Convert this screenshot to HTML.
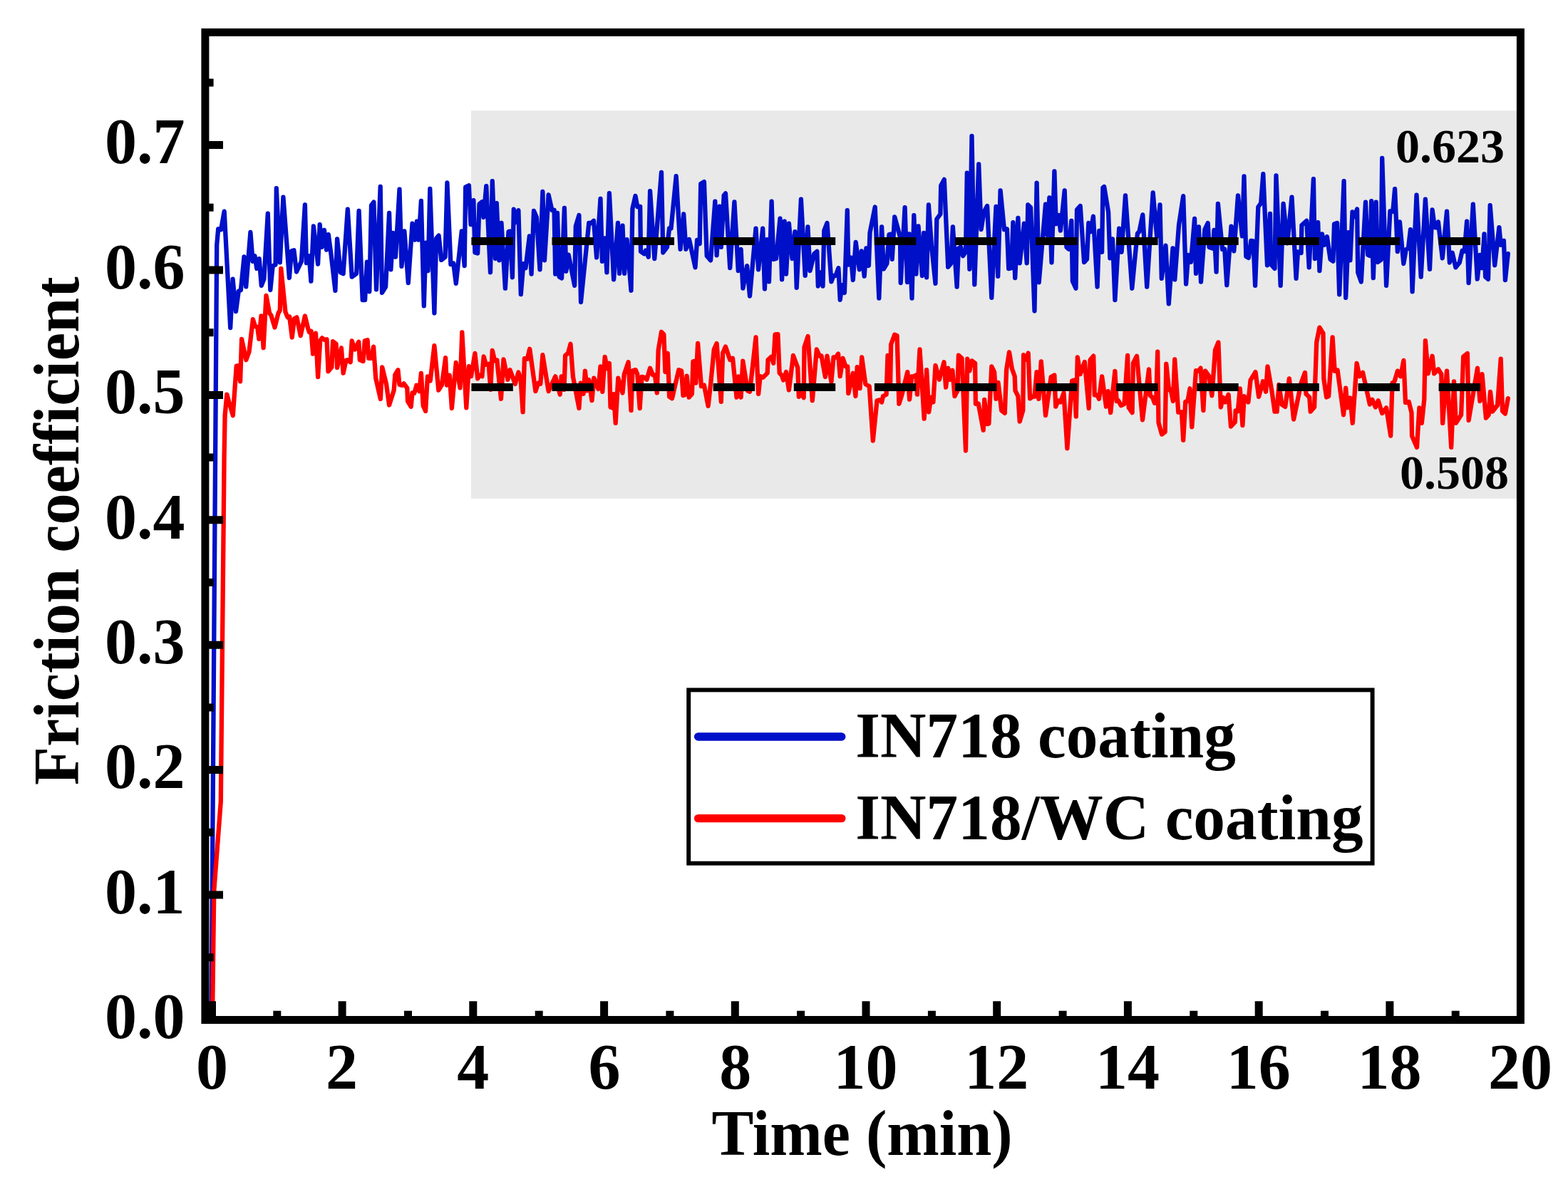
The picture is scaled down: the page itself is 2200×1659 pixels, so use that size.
<!DOCTYPE html>
<html lang="en"><head><meta charset="utf-8"><title>Friction coefficient vs time</title>
<style>html,body{margin:0;padding:0;background:#fff;}body{width:2200px;height:1659px;overflow:hidden;}svg{display:block;}</style></head>
<body>
<svg width="2200" height="1659" viewBox="0 0 2200 1659">
<rect x="0" y="0" width="2200" height="1659" fill="#fff"/>
<rect x="661" y="155.3" width="1468" height="544.5" fill="#e9e9e9"/>
<polyline points="296.5,1431.4 304.2,343.7 306.2,321.3 310.1,322.4 314.7,296.6 323.2,460.0 326.6,391.7 331.0,437.2 334.8,408.6 337.9,407.1 342.5,360.5 345.2,402.4 351.4,326.0 354.6,366.8 357.5,359.2 360.3,376.9 363.7,363.1 366.8,400.8 370.4,391.6 375.8,299.7 379.3,407.0 382.7,373.1 386.6,371.5 387.8,264.2 392.8,368.4 397.4,276.6 405.9,390.0 409.0,352.2 412.4,351.3 416.0,381.5 422.9,366.9 427.9,287.4 429.9,369.2 433.7,359.2 436.4,394.7 439.9,317.5 446.1,370.7 448.7,315.2 451.5,346.8 454.9,322.9 458.1,350.6 460.8,329.1 464.6,357.6 470.4,407.8 473.1,335.3 477.8,382.4 481.6,384.2 487.8,293.6 493.7,388.6 500.2,383.9 503.6,295.9 508.7,421.0 512.1,421.0 514.9,367.7 518.3,409.3 521.0,288.1 524.4,283.6 528.0,406.3 533.7,261.9 536.0,410.9 541.1,402.5 546.1,299.0 548.4,378.4 551.5,326.8 555.0,360.7 560.5,265.7 563.5,373.8 567.4,324.5 572.8,397.0 578.5,313.6 582.1,336.7 584.9,310.6 587.5,336.7 590.9,282.0 594.8,429.4 597.5,340.7 600.6,380.0 603.3,265.0 609.4,439.5 612.2,334.5 615.6,330.7 619.2,364.9 624.6,360.7 627.4,256.5 632.4,371.0 636.2,369.5 639.8,397.8 647.8,324.5 651.7,373.0 653.2,262.6 657.9,260.2 660.5,315.1 664.4,281.2 666.4,354.5 670.2,355.5 672.5,286.5 676.4,283.3 678.4,305.0 682.3,261.1 688.0,382.3 690.8,254.1 695.0,363.0 696.8,285.1 700.4,365.3 703.5,312.9 708.9,404.7 713.5,325.2 715.8,324.7 718.9,389.3 720.8,293.6 724.3,312.0 727.4,295.1 730.8,413.2 734.4,370.1 737.5,376.1 742.9,331.4 745.6,384.6 749.0,295.9 752.9,305.1 757.5,378.4 761.4,268.8 764.0,365.3 769.6,273.5 774.5,295.2 777.6,294.9 779.2,384.6 782.0,299.0 784.6,388.5 788.1,390.4 791.9,292.0 794.3,380.8 797.7,357.7 806.2,400.8 807.8,317.5 812.4,302.1 815.0,424.0 826.3,312.8 828.6,313.6 833.0,309.8 837.1,361.4 842.5,278.9 844.9,366.8 848.7,334.5 851.4,382.3 854.9,271.1 861.1,392.3 867.0,312.9 869.1,383.8 873.5,316.7 876.1,383.8 879.6,336.1 885.5,407.8 887.4,292.7 891.5,275.0 894.3,290.3 898.2,289.8 899.0,353.0 903.6,356.3 905.9,351.5 909.8,360.7 912.1,268.1 918.3,363.0 928.0,241.8 930.3,354.5 936.0,346.8 939.1,320.4 941.5,320.7 948.7,247.2 954.6,349.8 959.2,300.5 962.4,349.8 967.0,336.1 975.5,375.3 978.1,336.8 981.7,342.1 983.2,258.0 987.9,255.1 991.7,359.2 997.1,365.3 1003.3,282.7 1005.6,358.3 1009.5,289.7 1011.8,346.8 1015.7,274.2 1018.0,271.4 1024.2,376.1 1030.4,283.5 1035.8,380.0 1039.6,350.0 1042.4,404.7 1048.1,373.1 1052.0,415.5 1060.5,320.6 1064.1,378.4 1070.2,320.6 1072.9,405.5 1076.0,336.1 1079.0,395.4 1082.6,282.7 1085.2,364.0 1089.1,363.0 1094.5,306.7 1097.1,392.3 1100.7,310.6 1103.0,384.6 1106.9,313.6 1111.5,363.0 1115.4,325.2 1117.7,403.9 1123.9,279.6 1129.7,386.9 1133.4,318.3 1136.5,380.0 1142.4,356.1 1146.3,352.8 1147.8,401.6 1150.9,382.4 1154.5,401.6 1156.3,323.6 1160.5,312.9 1166.4,395.4 1169.5,387.0 1172.5,387.0 1176.4,376.2 1178.7,420.9 1181.4,400.2 1184.9,410.9 1188.8,295.1 1190.3,371.5 1194.2,361.6 1196.8,393.1 1200.7,339.9 1205.8,378.4 1208.9,352.3 1212.7,387.7 1215.4,348.4 1218.9,373.0 1220.5,326.7 1227.7,290.5 1233.3,418.6 1237.1,318.3 1239.8,377.7 1244.4,370.0 1247.5,329.0 1249.8,328.6 1251.7,363.8 1255.2,304.4 1263.0,332.9 1263.7,397.0 1269.6,291.2 1273.0,396.2 1275.8,328.3 1279.5,418.6 1282.3,302.1 1285.4,384.6 1288.5,317.5 1293.9,387.0 1296.2,326.9 1300.1,389.3 1302.9,287.5 1307.0,345.4 1312.5,397.8 1314.3,307.5 1319.4,300.5 1320.2,260.4 1324.8,251.9 1330.2,374.8 1334.1,370.1 1336.9,318.4 1342.6,402.5 1344.9,348.5 1348.0,346.6 1351.1,359.2 1355.0,353.1 1356.8,242.6 1360.4,377.8 1363.5,190.9 1367.3,399.4 1373.2,230.3 1376.6,322.1 1380.5,297.5 1385.1,289.0 1391.3,417.9 1397.5,289.8 1400.2,387.8 1403.6,267.4 1409.0,322.2 1412.9,321.4 1415.2,377.2 1419.1,376.3 1421.4,312.2 1424.2,390.1 1428.4,306.0 1430.7,369.3 1436.9,313.7 1440.7,369.3 1442.3,287.5 1446.1,291.3 1451.5,436.5 1454.6,256.6 1457.7,396.3 1467.0,286.7 1469.3,329.8 1472.4,277.4 1475.5,368.5 1479.4,240.3 1481.7,314.4 1485.5,302.1 1487.9,323.7 1493.7,267.4 1496.4,346.9 1499.5,349.7 1503.3,309.9 1504.9,394.8 1509.5,404.8 1511.0,294.4 1515.7,289.0 1521.1,368.1 1525.0,363.9 1527.3,313.0 1530.4,325.2 1533.9,303.7 1539.6,402.5 1542.3,323.8 1546.1,353.8 1547.4,263.5 1549.2,262.0 1555.1,297.5 1557.4,362.3 1561.0,335.4 1564.4,421.0 1570.2,320.7 1573.6,353.8 1579.0,274.3 1588.3,404.8 1593.7,348.5 1596.0,327.6 1598.4,325.3 1603.3,301.4 1609.2,402.5 1617.7,270.5 1623.1,331.4 1627.5,287.5 1629.8,390.9 1635.5,344.6 1639.8,426.4 1645.5,348.5 1648.3,392.4 1654.0,316.0 1660.2,275.1 1664.1,398.6 1667.2,357.8 1671.0,367.7 1676.1,306.8 1678.0,383.9 1681.9,318.4 1685.0,395.5 1690.4,322.2 1694.7,313.0 1696.5,346.9 1702.0,348.8 1703.5,323.0 1706.6,381.6 1708.9,285.9 1715.1,349.9 1718.2,349.4 1721.3,400.2 1727.5,317.6 1731.3,352.3 1737.0,274.3 1742.9,331.4 1745.5,247.3 1748.3,360.0 1751.9,361.9 1755.3,337.9 1758.4,338.4 1761.1,400.9 1765.3,290.5 1769.2,285.1 1772.3,244.2 1778.0,372.3 1782.0,299.8 1783.1,370.9 1788.5,377.0 1790.5,246.5 1796.7,400.9 1800.6,285.9 1806.3,341.4 1812.5,276.6 1818.6,390.9 1821.0,353.5 1825.6,355.0 1826.4,316.0 1833.3,309.9 1836.7,375.4 1842.9,251.1 1844.9,363.1 1849.2,312.2 1851.4,380.1 1855.0,328.4 1858.0,343.8 1861.9,332.3 1866.5,363.9 1870.4,366.7 1872.0,314.5 1876.1,313.0 1879.2,413.3 1885.6,254.2 1888.2,417.9 1892.0,326.1 1894.4,365.4 1897.5,297.5 1900.5,304.3 1904.1,293.6 1905.2,382.5 1909.8,395.5 1916.0,283.6 1919.1,357.7 1922.2,359.1 1924.2,282.1 1926.8,390.1 1930.7,283.6 1933.0,368.0 1937.6,364.7 1939.2,221.8 1945.1,400.9 1950.4,296.4 1954.3,297.0 1957.1,265.1 1960.8,353.0 1963.9,311.4 1969.3,370.0 1972.8,350.0 1975.9,348.5 1979.0,322.2 1981.6,409.4 1987.5,273.6 1993.7,388.6 1999.9,279.7 2006.0,377.8 2009.6,294.4 2013.0,319.1 2016.1,319.6 2017.9,311.4 2023.8,362.3 2030.0,296.7 2033.9,368.5 2037.7,354.7 2042.4,375.4 2047.8,368.5 2051.6,351.8 2054.7,352.8 2058.1,310.6 2060.6,397.1 2066.8,286.7 2072.8,391.7 2076.4,357.8 2079.5,376.2 2082.5,328.4 2084.1,388.6 2088.0,391.9 2090.7,288.2 2097.2,372.3 2103.4,319.1 2105.7,343.8 2109.9,337.7 2111.9,393.2 2115.8,356.2" fill="none" stroke="#0010c8" stroke-width="6.3" stroke-linejoin="round" stroke-linecap="round"/>
<polyline points="298.0,1431.4 300.3,1250.0 309.8,1125.0 314.6,640.0 315.6,583.0 318.3,553.7 326.8,583.2 331.7,513.7 334.0,513.3 337.1,535.3 339.1,475.9 345.3,505.2 349.5,493.6 354.9,448.1 358.0,458.1 361.1,458.9 363.4,475.8 366.5,443.5 369.6,488.2 373.5,414.9 378.1,439.5 380.4,442.6 385.5,459.6 390.5,439.5 392.8,435.7 394.3,377.0 400.5,438.0 403.6,445.4 406.2,444.5 409.8,473.5 412.9,447.3 416.4,445.4 421.7,471.2 427.9,443.5 432.2,461.2 434.0,466.2 436.5,464.7 439.1,496.7 443.0,467.7 446.1,529.1 449.2,478.2 452.0,474.4 455.4,477.0 458.5,476.3 460.5,521.4 465.4,515.3 467.0,479.1 471.6,482.8 473.1,516.0 478.9,488.3 481.6,523.7 485.5,506.0 487.8,505.1 491.7,508.2 493.7,478.5 497.9,490.5 503.3,479.8 504.8,505.2 509.5,507.1 511.8,478.2 515.6,477.2 517.2,502.9 521.0,502.9 524.1,486.7 527.2,530.7 533.9,560.0 536.2,515.3 541.9,538.5 546.1,568.5 552.7,547.7 554.3,526.1 558.4,519.2 560.5,540.0 564.3,540.9 566.6,538.3 571.3,544.6 572.0,563.2 576.7,570.8 578.5,551.4 581.3,551.8 584.4,540.8 588.3,549.2 590.9,523.8 593.7,569.4 597.1,577.0 599.9,528.5 603.7,534.5 609.4,485.2 615.3,547.7 620.0,540.0 625.1,502.2 626.9,540.7 630.8,526.8 633.9,573.0 639.8,509.0 645.5,544.4 648.3,466.5 654.3,572.3 657.9,514.1 661.0,528.2 666.4,495.9 670.2,531.3 673.3,526.7 676.4,528.3 678.7,500.5 681.8,511.8 685.7,510.8 688.3,546.8 690.8,492.0 694.2,506.4 697.3,505.4 703.0,559.9 706.5,504.4 712.4,532.8 715.5,519.1 722.8,539.0 727.4,522.5 730.5,531.4 733.6,578.4 735.9,503.2 739.8,503.9 743.2,489.7 751.4,549.1 755.2,537.8 758.3,538.8 761.4,498.2 769.6,549.1 779.2,528.3 785.7,553.7 787.7,528.3 790.0,528.3 791.5,546.8 793.1,498.9 797.0,495.8 800.5,482.7 803.9,528.3 812.4,573.0 814.7,537.6 818.6,552.9 820.9,520.6 824.0,548.3 826.3,533.0 830.5,562.2 833.3,530.6 839.5,546.0 842.5,514.4 845.3,549.8 848.7,500.8 851.8,517.4 854.9,509.8 856.5,571.5 859.5,572.5 861.1,553.1 863.7,593.9 867.3,530.6 873.5,551.4 875.8,525.2 881.6,508.2 885.5,576.1 887.4,520.5 891.7,519.1 894.3,525.2 897.7,573.0 900.5,528.9 904.4,529.8 907.5,532.6 912.1,516.7 916.0,526.4 919.0,526.3 921.8,551.4 923.7,491.2 928.0,465.8 931.4,469.5 933.4,522.0 936.8,495.9 939.1,556.9 943.0,559.2 952.3,519.1 956.1,520.5 958.5,555.0 960.8,554.5 963.6,527.6 966.7,557.7 970.9,553.0 972.4,507.4 974.7,506.9 976.3,537.5 979.1,482.0 984.0,542.2 987.9,540.6 993.6,569.9 997.1,539.1 1001.8,490.4 1005.6,482.0 1011.8,563.8 1014.1,495.8 1018.0,486.6 1024.2,505.0 1028.0,502.8 1033.5,557.6 1036.2,528.3 1039.6,557.6 1042.3,506.7 1048.9,548.4 1052.0,549.8 1060.5,473.5 1064.1,552.9 1066.7,528.2 1070.5,529.9 1076.7,523.6 1077.5,505.1 1082.1,500.9 1085.2,509.7 1087.5,469.5 1091.4,469.1 1093.7,523.6 1096.8,526.7 1099.1,533.6 1103.0,522.1 1106.9,547.5 1113.0,499.0 1119.2,515.9 1120.8,556.8 1123.9,551.5 1127.7,558.3 1128.5,487.3 1133.6,471.9 1139.8,562.2 1145.8,490.5 1150.1,499.8 1152.5,499.5 1157.9,529.0 1160.5,499.7 1166.4,535.9 1169.5,501.5 1172.5,501.7 1176.1,496.6 1178.7,528.2 1182.6,502.8 1186.5,514.4 1189.2,514.4 1190.3,552.2 1196.8,523.7 1200.4,556.0 1202.7,515.2 1206.5,545.2 1209.2,501.3 1214.3,539.1 1219.7,542.2 1224.8,618.6 1230.5,562.3 1234.4,561.3 1237.1,564.5 1239.0,556.1 1243.6,553.8 1245.5,499.0 1249.0,545.2 1250.1,483.5 1255.2,469.7 1258.6,471.1 1261.4,566.8 1265.3,554.5 1273.3,522.1 1276.1,560.7 1279.2,528.3 1282.3,528.3 1285.4,526.4 1286.9,553.7 1290.5,490.5 1296.7,587.7 1300.1,519.1 1303.2,578.4 1306.3,557.7 1309.4,564.5 1312.5,512.9 1317.9,532.8 1324.5,508.2 1327.1,543.7 1330.2,516.7 1333.3,532.8 1336.4,519.8 1339.5,556.0 1343.4,548.4 1344.9,498.6 1349.5,502.8 1355.0,632.5 1357.3,503.6 1360.4,520.5 1363.5,506.4 1368.1,509.7 1368.9,566.8 1372.7,566.3 1379.7,603.9 1381.2,560.8 1385.1,595.2 1387.4,594.7 1391.3,514.4 1395.1,522.1 1397.5,559.9 1400.5,536.8 1405.2,576.2 1409.8,579.9 1412.1,519.0 1416.0,494.3 1419.9,517.5 1423.7,528.3 1424.5,548.4 1428.4,556.1 1430.7,591.6 1435.3,576.2 1436.1,498.2 1439.2,505.0 1442.7,495.6 1445.1,559.4 1449.2,556.4 1451.5,556.6 1454.6,522.1 1457.4,559.9 1460.8,507.5 1467.0,583.1 1474.7,529.0 1479.4,526.5 1481.2,570.7 1484.8,562.3 1487.9,564.5 1492.5,551.5 1497.4,629.4 1504.1,534.5 1507.2,533.5 1509.8,584.6 1511.8,501.3 1515.7,525.1 1521.9,507.9 1527.7,573.0 1529.6,505.1 1534.2,499.7 1535.8,554.5 1539.6,554.5 1542.0,559.9 1546.1,528.3 1552.0,570.7 1554.8,549.2 1558.2,579.2 1564.4,520.9 1566.7,563.2 1569.0,562.1 1572.9,569.3 1577.5,566.9 1582.1,499.0 1583.7,572.3 1588.6,579.2 1589.9,509.7 1595.0,499.7 1603.0,589.3 1612.0,518.3 1613.8,555.3 1617.0,557.6 1620.0,565.8 1622.1,565.4 1624.2,493.6 1625.5,593.2 1630.1,609.6 1634.7,606.3 1636.3,510.6 1640.1,547.1 1642.5,546.5 1645.9,563.0 1648.2,504.4 1653.3,578.7 1657.9,578.3 1660.2,617.8 1663.3,563.8 1666.4,563.0 1669.5,545.3 1672.3,599.3 1678.0,520.2 1681.1,520.9 1684.6,516.7 1688.4,576.1 1691.1,520.6 1696.5,528.3 1700.4,555.3 1705.0,491.2 1709.4,480.4 1712.8,571.5 1715.9,557.7 1719.0,564.5 1723.6,553.8 1727.0,598.5 1732.9,592.4 1733.6,576.5 1736.7,577.4 1739.8,545.3 1743.4,597.0 1745.7,556.1 1751.4,564.5 1754.5,533.7 1761.5,522.1 1766.1,556.8 1772.0,535.3 1776.1,549.8 1778.5,514.4 1784.6,549.9 1788.5,577.7 1791.6,577.7 1794.4,539.9 1798.5,567.7 1803.2,571.0 1808.9,531.4 1815.1,588.5 1825.6,537.5 1831.0,522.9 1832.5,553.0 1837.2,557.6 1838.7,577.7 1844.1,571.5 1847.2,480.4 1851.4,459.6 1856.5,468.0 1857.3,531.4 1861.1,557.5 1864.2,556.1 1869.6,473.5 1872.7,520.9 1876.6,519.4 1885.1,582.3 1888.2,544.6 1890.5,572.3 1894.4,558.5 1897.8,593.9 1903.6,509.8 1907.5,528.2 1912.1,522.9 1921.9,567.6 1925.3,560.8 1929.9,571.5 1933.8,562.3 1939.2,580.0 1945.1,572.4 1951.2,611.7 1953.5,537.5 1956.6,535.2 1960.9,520.6 1965.1,528.2 1969.4,505.9 1972.0,565.2 1976.7,563.9 1980.5,579.3 1981.0,611.7 1988.0,627.9 1991.4,572.4 1994.8,593.9 1998.3,560.7 1999.9,478.1 2003.7,524.3 2009.6,499.7 2012.2,524.3 2018.1,518.3 2022.3,525.2 2024.1,593.9 2030.0,520.6 2036.2,627.9 2040.0,535.3 2042.8,593.9 2050.1,582.4 2053.2,500.5 2058.9,496.0 2060.6,590.0 2073.0,516.7 2076.4,563.0 2079.5,525.2 2084.9,586.6 2088.7,582.4 2091.0,550.0 2094.1,577.7 2101.1,568.5 2105.7,503.6 2108.0,577.0 2111.9,580.7 2115.8,559.2" fill="none" stroke="#ff0000" stroke-width="6.3" stroke-linejoin="round" stroke-linecap="round"/>
<line x1="661.4" y1="338.5" x2="2080" y2="338.5" stroke="#000" stroke-width="10.8" stroke-dasharray="58.4 54.7"/>
<line x1="661.4" y1="543.5" x2="2080" y2="543.5" stroke="#000" stroke-width="10.8" stroke-dasharray="58.4 54.7"/>
<path d="M287.9,1431.4H313.0 M287.9,1256.0H313.0 M287.9,1080.6H313.0 M287.9,905.2H313.0 M287.9,729.8H313.0 M287.9,554.4H313.0 M287.9,379.0H313.0 M287.9,203.6H313.0 M287.9,1343.7H299.6 M287.9,1168.3H299.6 M287.9,992.9H299.6 M287.9,817.5H299.6 M287.9,642.1H299.6 M287.9,466.7H299.6 M287.9,291.3H299.6 M287.9,115.9H299.6 M297.5,1431.5V1405.2 M480.1,1431.5V1405.2 M663.8,1431.5V1405.2 M847.6,1431.5V1405.2 M1031.3,1431.5V1405.2 M1215.0,1431.5V1405.2 M1398.7,1431.5V1405.2 M1582.4,1431.5V1405.2 M1766.2,1431.5V1405.2 M1949.9,1431.5V1405.2 M388.8,1431.5V1418.7 M572.5,1431.5V1418.7 M756.2,1431.5V1418.7 M939.9,1431.5V1418.7 M1123.6,1431.5V1418.7 M1307.4,1431.5V1418.7 M1491.1,1431.5V1418.7 M1674.8,1431.5V1418.7 M1858.5,1431.5V1418.7 M2042.2,1431.5V1418.7" stroke="#000" stroke-width="11.0" fill="none"/>
<rect x="287.9" y="45.4" width="1845.5" height="1386.1" fill="none" stroke="#000" stroke-width="11.0"/>
<g font-family="'Liberation Serif', 'Times New Roman', serif" font-weight="bold" fill="#000" style="font-variant-ligatures:none;font-kerning:normal">
<text x="259.5" y="1457.1" font-size="90" text-anchor="end">0.0</text>
<text x="259.5" y="1281.7" font-size="90" text-anchor="end">0.1</text>
<text x="259.5" y="1106.3" font-size="90" text-anchor="end">0.2</text>
<text x="259.5" y="930.9" font-size="90" text-anchor="end">0.3</text>
<text x="259.5" y="755.5" font-size="90" text-anchor="end">0.4</text>
<text x="259.5" y="580.1" font-size="90" text-anchor="end">0.5</text>
<text x="259.5" y="404.7" font-size="90" text-anchor="end">0.6</text>
<text x="259.5" y="229.3" font-size="90" text-anchor="end">0.7</text>
<text x="297.4" y="1527.7" font-size="90" text-anchor="middle">0</text>
<text x="479.6" y="1527.7" font-size="90" text-anchor="middle">2</text>
<text x="663.8" y="1527.7" font-size="90" text-anchor="middle">4</text>
<text x="848.0" y="1527.7" font-size="90" text-anchor="middle">6</text>
<text x="1031.7" y="1527.7" font-size="90" text-anchor="middle">8</text>
<text x="1214.5" y="1527.7" font-size="90" text-anchor="middle">10</text>
<text x="1398.2" y="1527.7" font-size="90" text-anchor="middle">12</text>
<text x="1581.9" y="1527.7" font-size="90" text-anchor="middle">14</text>
<text x="1765.7" y="1527.7" font-size="90" text-anchor="middle">16</text>
<text x="1949.4" y="1527.7" font-size="90" text-anchor="middle">18</text>
<text x="2133.1" y="1527.7" font-size="90" text-anchor="middle">20</text>
<text transform="translate(1209.6,1620.8) scale(0.98,1)" font-size="90" text-anchor="middle">Time (min)</text>
<text transform="translate(109.5,745.2) rotate(-90) scale(0.9815,1)" font-size="90" text-anchor="middle">Friction coefficient</text>
<text x="2111" y="227.5" font-size="68" text-anchor="end">0.623</text>
<text x="2117" y="686.2" font-size="68" text-anchor="end">0.508</text>
<rect x="966.2" y="968.4" width="959.4" height="243.3" fill="#fff" stroke="#000" stroke-width="5.9"/>
<line x1="979.6" y1="1034" x2="1180.8" y2="1034" stroke="#0010c8" stroke-width="11.4" stroke-linecap="round"/>
<line x1="979.6" y1="1148.6" x2="1180.8" y2="1148.6" stroke="#ff0000" stroke-width="11.4" stroke-linecap="round"/>
<text transform="translate(1200.3,1063) scale(0.993,1)" font-size="90">IN718 coating</text>
<text transform="translate(1200.3,1177.5) scale(0.993,1)" font-size="90">IN718/WC coating</text>
</g>
</svg>
</body></html>
